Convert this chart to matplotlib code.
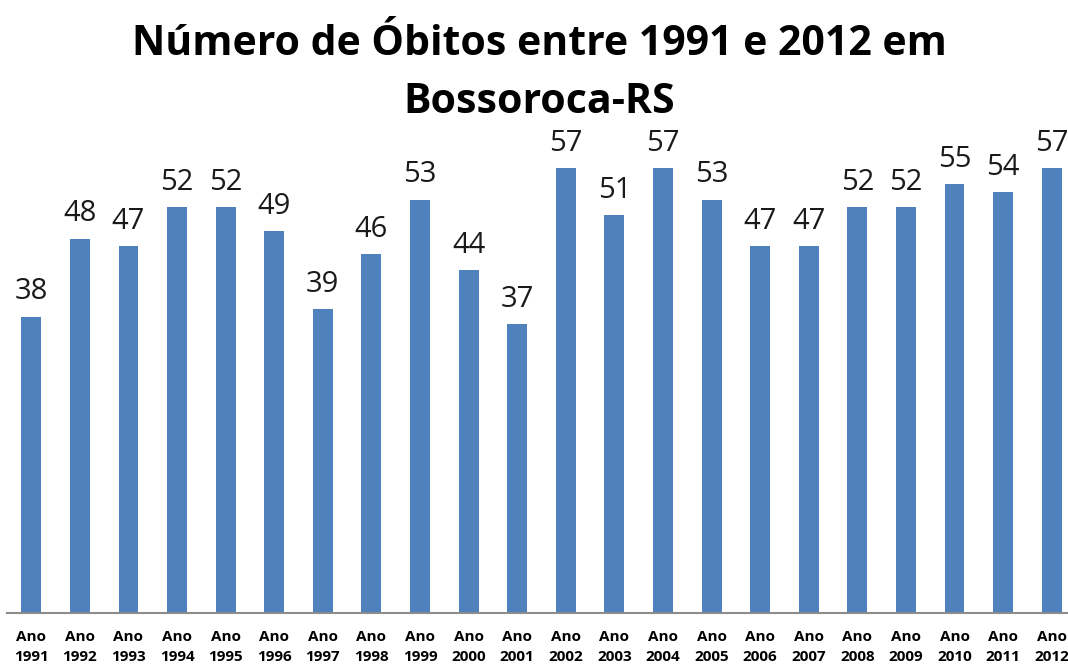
import matplotlib.pyplot as plt

anos = list(range(1991, 2013))
obitos = [38, 48, 47, 52, 52, 49, 39, 46, 53, 44, 37, 57, 51, 57, 53, 47, 47, 52, 52, 55, 54, 57]
rotulos = [f"Ano\n{a}" for a in anos]

fig = plt.figure(figsize=(10.68, 6.66), dpi=100)
ax = fig.add_axes([7 / 1068, 53 / 666, 1069 / 1068, 468 / 666])

x = range(len(anos))
bars = ax.bar(x, obitos, width=0.41, color='#4F81BD', zorder=2)

for xi, v in zip(x, obitos):
    ax.text(xi, v + 1.3, str(v), ha='center', va='bottom', fontsize=21,
            family='Open Sans', color='#1a1a1a')

ax.set_xlim(-0.5, len(anos) - 0.5)
ax.set_ylim(0, 60)
ax.set_xticks(list(x))
ax.set_xticklabels(rotulos, fontsize=11, fontweight='bold', family='Open Sans',
                   linespacing=1.6)
ax.tick_params(axis='x', length=0, pad=12)
ax.set_yticks([])
for s in ['top', 'right', 'left']:
    ax.spines[s].set_visible(False)
ax.spines['bottom'].set_color('#8c8c8c')
ax.spines['bottom'].set_linewidth(1.5)

fig.text(0.505, 0.89, "Número de Óbitos entre 1991 e 2012 em\nBossoroca-RS",
         ha='center', va='center', fontsize=29.5, fontweight='bold',
         family='Open Sans', linespacing=1.55)

fig.savefig('out.png', dpi=100)
